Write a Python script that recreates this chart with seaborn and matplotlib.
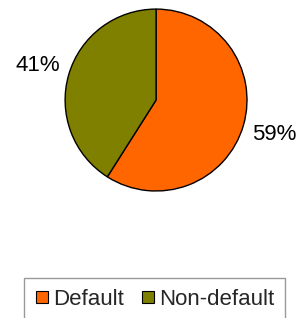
import matplotlib.pyplot as plt
import seaborn as sns
from matplotlib.lines import Line2D

# data
labels = ['Default', 'Non-default']
shares = [59, 41]
colors = ['#FF6600', '#808000']

sns.set_theme(style="white")
plt.rcParams['font.family'] = ['Liberation Sans', 'DejaVu Sans']

fig = plt.figure(figsize=(3.0, 3.18), dpi=100)
ax = fig.add_axes([0.2167, 0.3994, 0.607, 0.572])

ax.pie(shares, colors=colors, startangle=90, counterclock=False,
       autopct='%.0f%%', pctdistance=1.35,
       wedgeprops=dict(edgecolor='black', linewidth=1),
       textprops=dict(fontsize=16, color='black'))
ax.set_xlim(-1, 1)
ax.set_ylim(-1, 1)
ax.set_aspect('equal')

handles = [Line2D([], [], marker='s', ls='', markersize=8,
                  markerfacecolor=c, markeredgecolor='black', markeredgewidth=0.8)
           for c in colors]
leg = fig.legend(handles, labels, loc='upper left', bbox_to_anchor=(23.5 / 300, 1 - 278 / 318),
                 ncol=2, frameon=True, fancybox=False, fontsize=16,
                 handletextpad=0.15, columnspacing=0.7, borderpad=0.5,
                 handlelength=0.7, borderaxespad=0)
leg.get_frame().set_edgecolor('#808080')
leg.get_frame().set_linewidth(1)

fig.savefig('out.png', dpi=100)
